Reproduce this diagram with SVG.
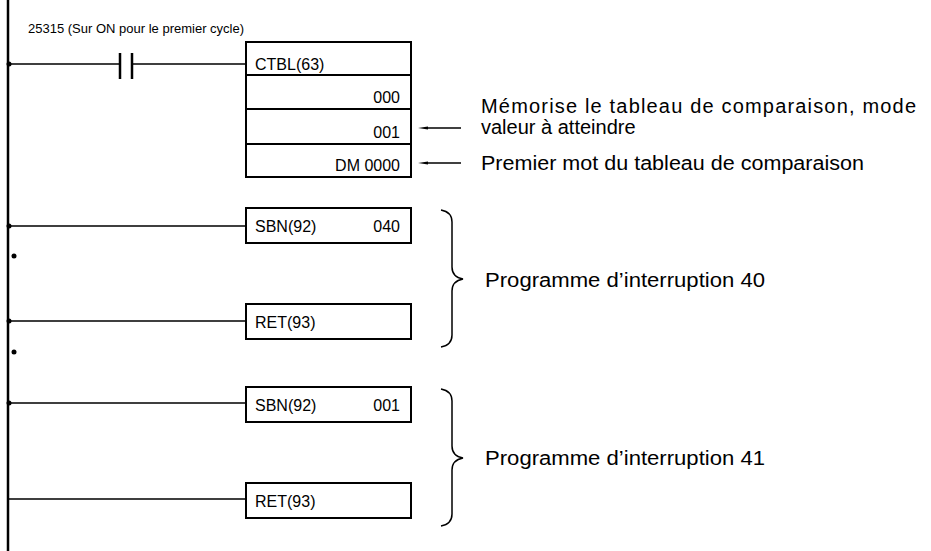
<svg xmlns="http://www.w3.org/2000/svg" width="931" height="551" viewBox="0 0 931 551">
<style>
text{font-family:"Liberation Sans",Arial,sans-serif;font-size:20px;fill:#000}
.s{font-size:16px}
.t{font-size:13px}
.b{fill:#fff;stroke:#000;stroke-width:2}
.l{stroke:#000;stroke-width:1.5;fill:none}
.r{text-anchor:end}
</style>
<defs><marker id="a" markerWidth="10" markerHeight="6" refX="0" refY="3" orient="auto" markerUnits="userSpaceOnUse"><path d="M0,1.5 L10,3 L0,4.5z" fill="#000"/></marker></defs>
<g id="connectors">
<line x1="8" y1="0" x2="8" y2="551" stroke="#000" stroke-width="2.5"/>
<path class="l" d="M8,64H120M132,64H246M8,226H246M8,321H246M8,403H246M8,499H246"/>
<path stroke="#000" stroke-width="2.5" d="M120,53V79M132,53V79"/>
<path class="l" d="M461,128H428" marker-end="url(#a)"/>
<path class="l" d="M461,163H428" marker-end="url(#a)"/>
<circle cx="9" cy="64" r="2.5"/><circle cx="9" cy="226" r="2.5"/><circle cx="9" cy="321" r="2.5"/><circle cx="9" cy="403" r="2.5"/>
<circle cx="14" cy="256" r="2.5"/><circle cx="14" cy="352" r="2.5"/>
<path class="l" d="M441,210q11,2 11,12v45q0,10 11,12q-11,2 -11,12v44q0,10 -11,12"/>
<path class="l" d="M441,389q11,2 11,12v45q0,10 11,12q-11,2 -11,12v44q0,10 -11,12"/>
</g>
<g id="label"><text class="t" x="28" y="33">25315 (Sur ON pour le premier cycle)</text></g>
<g id="ctbl">
<rect class="b" x="246" y="42" width="165" height="33"/><rect class="b" x="246" y="75" width="165" height="34"/><rect class="b" x="246" y="109" width="165" height="35"/><rect class="b" x="246" y="144" width="165" height="33"/>
<text class="s" x="255" y="70">CTBL(63)</text><text class="s r" x="400" y="103">000</text><text class="s r" x="400" y="138">001</text><text class="s r" x="400" y="171">DM 0000</text>
</g>
<g id="notes">
<text x="481" y="113" textLength="435" lengthAdjust="spacing">Mémorise le tableau de comparaison, mode</text>
<text x="481" y="134">valeur à atteindre</text>
<text x="481" y="170" textLength="383" lengthAdjust="spacingAndGlyphs">Premier mot du tableau de comparaison</text>
</g>
<g id="sbn1"><rect class="b" x="246" y="208" width="165" height="35"/><text class="s" x="255" y="232">SBN(92)</text><text class="s r" x="400" y="232">040</text></g>
<g id="ret1"><rect class="b" x="246" y="304" width="165" height="35"/><text class="s" x="255" y="328">RET(93)</text></g>
<g id="sbn2"><rect class="b" x="246" y="387" width="165" height="35"/><text class="s" x="255" y="411">SBN(92)</text><text class="s r" x="400" y="411">001</text></g>
<g id="ret2"><rect class="b" x="246" y="483" width="165" height="35"/><text class="s" x="255" y="507">RET(93)</text></g>
<g id="p40"><text x="485" y="287" textLength="280" lengthAdjust="spacingAndGlyphs">Programme d’interruption 40</text></g>
<g id="p41"><text x="485" y="465" textLength="280" lengthAdjust="spacingAndGlyphs">Programme d’interruption 41</text></g>
</svg>
